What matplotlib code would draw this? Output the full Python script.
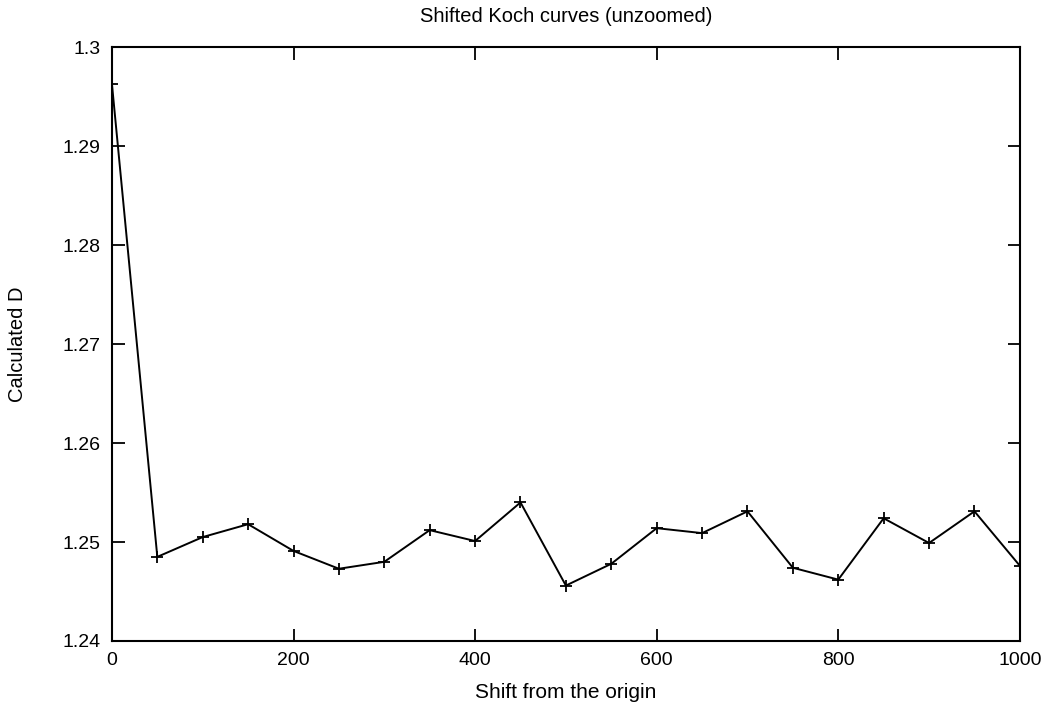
import matplotlib
matplotlib.use("Agg")
import matplotlib.pyplot as plt

# shift of the Koch curve and the box-counting dimension found for it
shift = [0, 50, 100, 150, 200, 250, 300, 350, 400, 450, 500,
         550, 600, 650, 700, 750, 800, 850, 900, 950, 1000]
dimension = [1.2963, 1.2485, 1.2505, 1.2518, 1.2491, 1.2473, 1.2480,
             1.2512, 1.2501, 1.2540, 1.2456, 1.2478, 1.2514, 1.2509,
             1.2531, 1.2474, 1.2462, 1.2524, 1.2499, 1.2531, 1.2476]

x_ticks = [0, 200, 400, 600, 800, 1000]
y_ticks = [1.24, 1.25, 1.26, 1.27, 1.28, 1.29, 1.30]
y_tick_labels = ["1.24", "1.25", "1.26", "1.27", "1.28", "1.29", "1.3"]

plt.rcParams["font.family"] = ["Liberation Sans", "DejaVu Sans"]

fig = plt.figure(figsize=(10.46, 7.04), dpi=100)
ax = fig.add_axes([0.107, 0.0895, 0.868, 0.8435])

ax.plot(shift, dimension, color="black", lw=1.4, marker="+",
        markersize=9, markeredgewidth=1.3)

ax.set_xlim(0, 1000)
ax.set_ylim(1.24, 1.30)
ax.set_xticks(x_ticks)
ax.set_yticks(y_ticks)
ax.set_yticklabels(y_tick_labels)
ax.tick_params(direction="in", length=9, width=1.3, labelsize=14,
               top=True, right=True, pad=8)

for side in ax.spines.values():
    side.set_linewidth(1.5)

ax.set_title("Shifted Koch curves (unzoomed)", fontsize=14.5, pad=18)
ax.set_xlabel("Shift from the origin", fontsize=15, labelpad=10)
ax.set_ylabel("Calculated D", fontsize=14.5, labelpad=26)

fig.savefig("out.png", dpi=100)
